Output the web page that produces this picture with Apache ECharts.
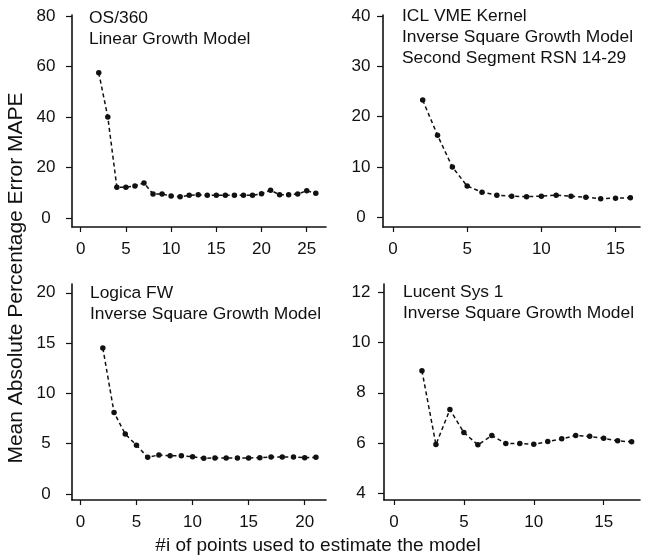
<!DOCTYPE html>
<html>
<head>
<meta charset="utf-8">
<script src="https://cdn.jsdelivr.net/npm/echarts@6/dist/echarts.min.js"></script>
<style>
  html, body { margin: 0; padding: 0; background: #fff; }
  #chart { width: 652px; height: 559px; }
</style>
</head>
<body>
<div id="chart"></div>
<script>
// Number of points used to fit each model
const os360X = [2,3,4,5,6,7,8,9,10,11,12,13,14,15,16,17,18,19,20,21,22,23,24,25,26];
const os360Mape = [57.5,40,12.2,12.2,12.7,13.9,9.5,9.5,8.7,8.4,9.0,9.2,9.0,9.0,9.0,9.0,9.0,9.0,9.6,11.0,9.2,9.2,9.5,10.8,9.8];

const iclX = [2,3,4,5,6,7,8,9,10,11,12,13,14,15,16];
const iclMape = [23.3,16.3,10.0,6.2,5.0,4.4,4.2,4.1,4.2,4.4,4.2,4.0,3.7,3.8,3.9];

const logicaX = [2,3,4,5,6,7,8,9,10,11,12,13,14,15,16,17,18,19,20,21];
const logicaMape = [14.5,8.1,5.95,4.85,3.65,3.88,3.8,3.8,3.7,3.55,3.58,3.58,3.58,3.58,3.6,3.68,3.68,3.68,3.6,3.65];

const lucentX = [2,3,4,5,6,7,8,9,10,11,12,13,14,15,16,17];
const lucentMape = [8.88,5.93,7.33,6.41,5.92,6.29,5.97,5.97,5.94,6.05,6.16,6.29,6.26,6.18,6.08,6.04];

// Tick labels per panel
const os360XTicks = [0,5,10,15,20,25];
const os360YTicks = [0,20,40,60,80];
const iclXTicks = [0,5,10,15];
const iclYTicks = [0,10,20,30,40];
const logicaXTicks = [0,5,10,15,20];
const logicaYTicks = [0,5,10,15,20];
const lucentXTicks = [0,5,10,15];
const lucentYTicks = [4,6,8,10,12];

const panelTitles = [
  'OS/360\nLinear Growth Model',
  'ICL VME Kernel\nInverse Square Growth Model\nSecond Segment RSN 14-29',
  'Logica FW\nInverse Square Growth Model',
  'Lucent Sys 1\nInverse Square Growth Model'
];
const xAxisTitle = '#i of points used to estimate the model';
const yAxisTitle = 'Mean Absolute Percentage Error MAPE';

const FONT = '"Liberation Sans", Arial, Helvetica, sans-serif';
const INK = '#111';

const panels = [
  { x: os360X, y: os360Mape, xt: os360XTicks, yt: os360YTicks,
    grid: { left: 72, top: 15, width: 254, height: 212 },
    xr: [-0.96, 27.13], yr: [-3.56, 80.4], ym: 26 },
  { x: iclX, y: iclMape, xt: iclXTicks, yt: iclYTicks,
    grid: { left: 383, top: 15, width: 257, height: 212 },
    xr: [-0.675, 16.65], yr: [-1.93, 40.2], ym: 22 },
  { x: logicaX, y: logicaMape, xt: logicaXTicks, yt: logicaYTicks,
    grid: { left: 72, top: 284, width: 254, height: 216 },
    xr: [-0.75, 21.9], yr: [-0.6, 20.87], ym: 26 },
  { x: lucentX, y: lucentMape, xt: lucentXTicks, yt: lucentYTicks,
    grid: { left: 384, top: 284, width: 256, height: 216 },
    xr: [-0.715, 17.6], yr: [3.72, 12.34], ym: 23 }
];

const axisLine = { show: true, onZero: false, lineStyle: { color: INK, width: 1.6 } };
const titleFont = '17.4px ' + FONT;

const option = {
  animation: false,
  backgroundColor: '#fff',
  grid: panels.map(p => Object.assign({ containLabel: false }, p.grid)),
  xAxis: panels.map((p, i) => ({
    type: 'value', gridIndex: i, min: p.xr[0], max: p.xr[1],
    axisLine: axisLine,
    axisTick: { show: true, length: 5, customValues: p.xt, lineStyle: { color: INK, width: 1.2 } },
    axisLabel: { customValues: p.xt, margin: 22, verticalAlign: 'middle',
                 color: INK, fontSize: 17, fontFamily: FONT },
    splitLine: { show: false }
  })),
  yAxis: panels.map((p, i) => ({
    type: 'value', gridIndex: i, min: p.yr[0], max: p.yr[1],
    axisLine: axisLine,
    axisTick: { show: true, length: 6, customValues: p.yt, lineStyle: { color: INK, width: 1.2 } },
    axisLabel: { customValues: p.yt, margin: p.ym, align: 'center',
                 color: INK, fontSize: 17, fontFamily: FONT },
    splitLine: { show: false }
  })),
  series: panels.map((p, i) => ({
    type: 'line', xAxisIndex: i, yAxisIndex: i,
    data: p.x.map((v, k) => [v, p.y[k]]),
    symbol: 'circle', symbolSize: 5.5,
    itemStyle: { color: INK },
    lineStyle: { color: INK, width: 1.5, type: [4, 3] }
  })),
  graphic: [
    { type: 'text', left: 89, top: 8, style: { text: panelTitles[0], fill: INK, font: titleFont, lineHeight: 21 } },
    { type: 'text', left: 402, top: 6, style: { text: panelTitles[1], fill: INK, font: titleFont, lineHeight: 21 } },
    { type: 'text', left: 90, top: 283, style: { text: panelTitles[2], fill: INK, font: titleFont, lineHeight: 21 } },
    { type: 'text', left: 403, top: 282, style: { text: panelTitles[3], fill: INK, font: titleFont, lineHeight: 21 } },
    { type: 'text', x: 318, y: 546,
      style: { text: xAxisTitle, fill: INK, font: '19px ' + FONT, align: 'center', verticalAlign: 'middle' } },
    { type: 'text', x: 16, y: 278, rotation: Math.PI / 2,
      style: { text: yAxisTitle, fill: INK, font: '21px ' + FONT, align: 'center', verticalAlign: 'middle' } }
  ]
};

echarts.init(document.getElementById('chart'), null, { renderer: 'canvas' }).setOption(option);
</script>
</body>
</html>
